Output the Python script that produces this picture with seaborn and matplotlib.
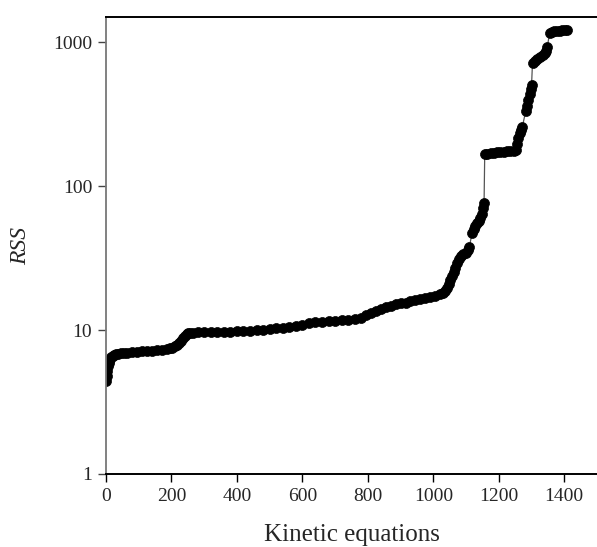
import matplotlib
matplotlib.use("Agg")
import matplotlib.pyplot as plt
import seaborn as sns
import pandas as pd

# Data (sorted RSS of kinetic equations)
equation_index = [
    0, 2, 4, 6, 8, 10, 13, 16, 20, 25, 30, 38, 45, 55, 65, 80, 95, 110, 125, 140,
    155, 170, 185, 195, 203, 210, 216, 222, 228, 234, 240, 246, 252, 258, 265,
    280, 300, 320, 340, 360, 380, 400, 420, 440, 460, 480, 500, 520, 540, 560,
    580, 600, 620, 640, 660, 680, 700, 720, 740, 760, 780, 795, 810, 825, 840,
    855, 870, 885, 900, 915, 930, 945, 960, 975, 990, 1005, 1020, 1030, 1036,
    1042, 1047, 1052, 1057, 1062, 1067, 1072, 1078, 1085, 1092, 1099, 1105, 1110,
    1118, 1123, 1128, 1133, 1138, 1143, 1148, 1152, 1155, 1157, 1165, 1175, 1185,
    1195, 1205, 1215, 1225, 1235, 1245, 1252, 1256, 1260, 1264, 1268, 1272,
    1282, 1286, 1290, 1294, 1297, 1300, 1303, 1310, 1318, 1326, 1334, 1341,
    1345, 1348, 1355, 1362, 1370, 1378, 1386, 1394, 1402, 1408,
]
rss_values = [
    4.4, 4.8, 5.2, 5.6, 5.9, 6.1, 6.3, 6.45, 6.6, 6.7, 6.78, 6.85, 6.9, 6.95,
    6.98, 7.0, 7.05, 7.1, 7.15, 7.2, 7.25, 7.3, 7.38, 7.45, 7.55, 7.7, 7.9, 8.15,
    8.45, 8.8, 9.1, 9.35, 9.5, 9.55, 9.6, 9.62, 9.64, 9.66, 9.68, 9.7, 9.73,
    9.77, 9.82, 9.88, 9.95, 10.05, 10.15, 10.25, 10.35, 10.5, 10.7, 10.9, 11.1,
    11.3, 11.45, 11.55, 11.6, 11.65, 11.75, 11.9, 12.2, 12.8, 13.2, 13.6, 14.0,
    14.4, 14.8, 15.1, 15.3, 15.5, 15.8, 16.1, 16.4, 16.7, 17.0, 17.3, 17.7, 18.2,
    18.8, 19.6, 20.8, 22.2, 23.8, 25.3, 27.0, 29.0, 31.0, 32.5, 33.5, 34.5, 36.0,
    37.5, 47.0, 50.0, 53.0, 55.0, 57.0, 60.0, 64.0, 70.0, 76.0, 167.0, 168.0,
    169.0, 170.0, 171.0, 172.0, 173.0, 174.0, 175.0, 176.0, 178.0, 195.0, 215.0,
    232.0, 245.0, 258.0, 330.0, 360.0, 395.0, 435.0, 470.0, 500.0, 720.0, 740.0,
    765.0, 790.0, 815.0, 840.0, 870.0, 920.0, 1150.0, 1170.0, 1185.0, 1195.0,
    1200.0, 1205.0, 1210.0, 1212.0,
]
x_ticks = [0, 200, 400, 600, 800, 1000, 1200, 1400]
y_ticks = [1, 10, 100, 1000]
y_ticklabels = ["1", "10", "100", "1000"]

df = pd.DataFrame({"Kinetic equations": equation_index, "RSS": rss_values})

sns.set_style("ticks")
plt.rcParams["font.family"] = ["Liberation Serif", "DejaVu Serif"]

fig = plt.figure(figsize=(5.97, 5.47), dpi=100)
ax = fig.add_axes([106 / 597, 1 - 474 / 547, 1 - 106 / 597, (474 - 17) / 547])

sns.lineplot(data=df, x="Kinetic equations", y="RSS", ax=ax,
             color="#555555", linewidth=0.9, marker="o", markersize=7.2,
             markerfacecolor="black", markeredgecolor="black",
             markeredgewidth=0.5, estimator=None, sort=True)

ax.set_yscale("log")
ax.set_xlim(0, 1500)
ax.set_ylim(1, 1493)
ax.set_xticks(x_ticks)
ax.set_xticklabels([str(t) for t in x_ticks])
ax.set_yticks(y_ticks)
ax.set_yticklabels(y_ticklabels)
ax.yaxis.set_minor_locator(matplotlib.ticker.NullLocator())

ax.tick_params(axis="both", direction="out", length=6, width=1.0,
               labelsize=14, pad=4, color="black")
ax.tick_params(axis="y", color="#444444")

for side in ["bottom", "top"]:
    ax.spines[side].set_visible(True)
    ax.spines[side].set_color("black")
    ax.spines[side].set_linewidth(1.4)
ax.spines["left"].set_color("#777777")
ax.spines["left"].set_linewidth(1.3)
ax.spines["right"].set_visible(False)

ax.set_xlabel("Kinetic equations", fontsize=18, labelpad=14)
ax.set_ylabel("RSS", fontsize=17, style="italic", labelpad=16)

fig.savefig("out.png", dpi=100)
